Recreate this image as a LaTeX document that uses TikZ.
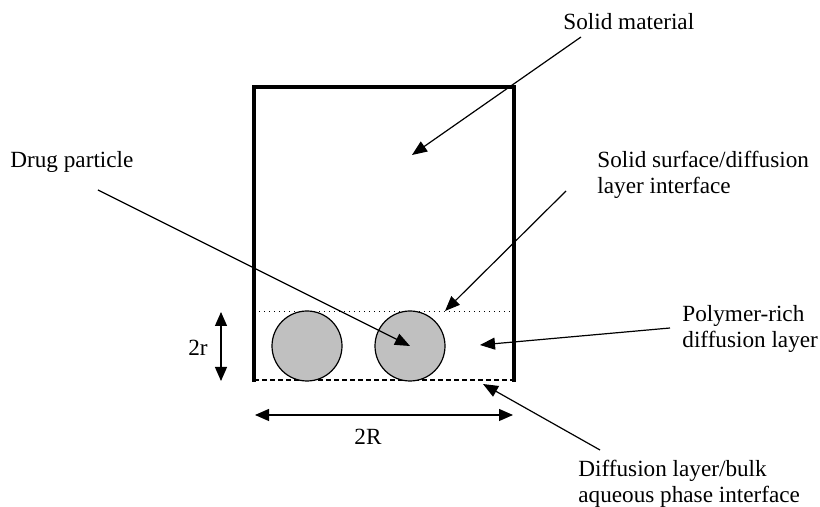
\documentclass[tikz,border=0pt]{standalone}
\usepackage{fontspec}
\setmainfont{Liberation Serif}
\usepackage{xcolor}
\usetikzlibrary{arrows.meta, positioning}
\definecolor{particlegray}{HTML}{C0C0C0}
\tikzset{
    labeltext/.style={
        inner sep=0pt,
        align=left,
        anchor=west,
        font=\fontsize{11.6}{12.8}\selectfont
    },
    wall/.style={
        line width=2pt,
        line cap=rect,
        draw=black
    },
    particle/.style={
        circle,
        draw=black,
        line width=0.6pt,
        fill=particlegray,
        minimum size=35pt,
        inner sep=0pt
    },
    arrow/.style={
        -{Triangle[length=7.5pt, width=6pt]},
        line width=0.6pt,
        draw=black
    },
    dimarrow/.style={
        {Triangle[length=7pt, width=6pt]}-{Triangle[length=7pt, width=6pt]},
        line width=0.6pt,
        draw=black
    }
}

\begin{document}
\begin{tikzpicture}[x=0.5pt, y=-0.5pt]
    \useasboundingbox (0,0) rectangle (820,507);

    % container and layer boundaries
    \draw[wall] (254,380) -- (254,87) -- (514,87) -- (514,380);
    \draw[line width=0.5pt, dotted] (254,312) -- (514,312);
    \draw[line width=1pt, dash pattern=on 2.5pt off 1.5pt] (254,380) -- (514,380);

    % particles
    \node[particle] (p1) at (307,346) {};
    \node[particle] (p2) at (410,346) {};

    % labels
    \node[labeltext] (solid) at (563,22) {Solid material};
    \node[labeltext] (drug) at (10,162) {Drug particle};
    \node[labeltext] (surface) at (597,175) {Solid surface/diffusion\\layer interface};
    \node[labeltext] (polymer) at (682,329) {Polymer-rich\\diffusion layer};
    \node[labeltext] (bulk) at (578,484) {Diffusion layer/bulk\\aqueous phase interface};
    \node[labeltext, anchor=center] (rlabel) at (198,348) {2r};
    \node[labeltext, anchor=center] (Rlabel) at (368,437) {2R};

    % arrow ends
    \coordinate (solidtail) at (581,37);
    \coordinate (solidtip) at (412,155);
    \coordinate (drugtail) at (98,190);
    \coordinate (surfacetail) at (566,191);
    \coordinate (surfacetip) at (445,311);
    \coordinate (polymertail) at (670,328);
    \coordinate (polymertip) at (480,345);
    \coordinate (bulktail) at (600,450);
    \coordinate (bulktip) at (483,384);
    \coordinate (rtop) at (221,312);
    \coordinate (rbot) at (221,381);
    \coordinate (Rleft) at (255,415);
    \coordinate (Rright) at (513,415);

    \draw[arrow] (solidtail) -- (solidtip);
    \draw[arrow] (drugtail) -- (p2.center);
    \draw[arrow] (surfacetail) -- (surfacetip);
    \draw[arrow] (polymertail) -- (polymertip);
    \draw[arrow] (bulktail) -- (bulktip);
    \draw[dimarrow] (rtop) -- (rbot);
    \draw[dimarrow] (Rleft) -- (Rright);
\end{tikzpicture}
\end{document}
